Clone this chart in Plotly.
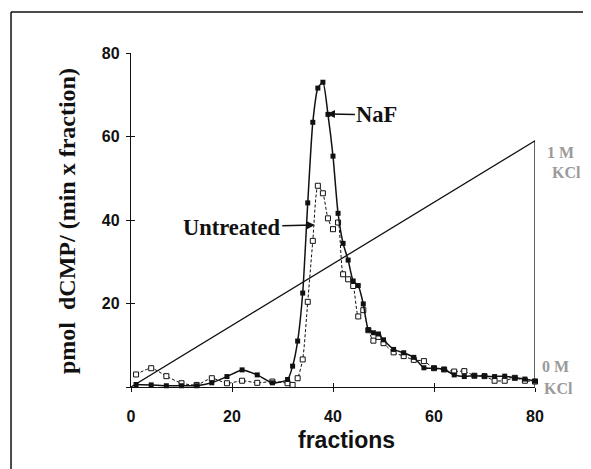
import plotly.graph_objects as go

fractions = [1, 4, 7, 10, 13, 16, 19, 22, 25, 28, 31, 32, 33, 34, 35, 36, 37, 38, 39, 40,
             41, 42, 43, 44, 45, 46, 47, 48, 49, 50, 52, 54, 56, 58, 60, 62, 64, 66, 68, 70,
             72, 74, 76, 78, 80]
naf = [0.6, 0.5, 0.3, 0.3, 0.3, 1.0, 2.5, 4.1, 2.9, 1.0, 1.8, 5.0, 11.0, 22.5, 44.1, 63.4, 71.6, 73.0, 65.3, 55.3,
       41.6, 34.4, 30.4, 25.4, 24.3, 19.9, 13.7, 13.0, 12.7, 11.3, 9.0, 8.2, 7.1, 4.6, 4.5, 4.2, 2.9, 2.5, 2.7, 2.6,
       2.5, 2.6, 2.2, 1.9, 1.4]
untreated = [3.0, 4.5, 2.6, 0.9, 0.5, 2.1, 0.9, 1.5, 1.0, 1.3, 0.9, 0.5, 2.1, 6.6, 20.4, 35.0, 48.2, 46.4, 40.4, 37.8,
             39.4, 27.0, 25.8, 24.2, 16.9, 18.4, 13.6, 11.1, 12.0, 10.5, 8.3, 7.4, 6.5, 6.2, 4.5, 4.2, 3.7, 3.8, 2.7, 2.6,
             1.5, 1.5, 2.2, 1.5, 1.3]
gradient_x = [0, 80, 80]
gradient_y = [0, 59, 0]

x_ticks = [0, 20, 40, 60, 80]
y_ticks = [0, 20, 40, 60, 80]
y_ticktext = ["", "20", "40", "60", "80"]

fig = go.Figure()
fig.add_trace(go.Scatter(x=gradient_x, y=gradient_y, mode="lines",
                         line=dict(color="#111", width=1.3), cliponaxis=False, showlegend=False))
fig.add_trace(go.Scatter(x=fractions, y=untreated, mode="lines+markers",
                         line=dict(color="#111", width=1, dash="3px,2px", shape="spline", smoothing=0.6),
                         marker=dict(symbol="square", size=5, color="white", line=dict(color="#111", width=1)),
                         cliponaxis=False, showlegend=False))
fig.add_trace(go.Scatter(x=fractions, y=naf, mode="lines+markers",
                         line=dict(color="#111", width=1.5, shape="spline", smoothing=0.6),
                         marker=dict(symbol="square", size=5, color="#111", line=dict(color="#111", width=0)),
                         cliponaxis=False, showlegend=False))
# overlay axes for the inside half of the crossing ticks
fig.add_trace(go.Scatter(x=[None], y=[None], xaxis="x2", yaxis="y2", showlegend=False))

tickfont = dict(family="Liberation Sans, Arial", size=16, color="#111", weight="bold")
fig.update_layout(
    width=591, height=469,
    margin=dict(l=123, r=64, t=45, b=90),
    paper_bgcolor="white", plot_bgcolor="white",
    xaxis=dict(range=[0, 80], tickvals=x_ticks, ticks="outside", ticklen=4, tickwidth=1.3,
               tickcolor="#111", showline=True, linecolor="#111", linewidth=1.3, showgrid=False,
               zeroline=False, tickfont=tickfont, ticklabelstandoff=11),
    yaxis=dict(range=[0, 80], tickvals=y_ticks, ticktext=y_ticktext, ticks="outside", ticklen=4,
               tickwidth=1.3, tickcolor="#111", showline=True, linecolor="#111", linewidth=1.3,
               showgrid=False, zeroline=False, tickfont=tickfont, ticklabelstandoff=3),
    xaxis2=dict(range=[0, 80], overlaying="x", tickvals=x_ticks, ticks="inside", ticklen=4, tickwidth=1.3,
                tickcolor="#111", showticklabels=False, showgrid=False, zeroline=False, showline=False),
    yaxis2=dict(range=[0, 80], overlaying="y", tickvals=y_ticks, ticks="inside", ticklen=4, tickwidth=1.3,
                tickcolor="#111", showticklabels=False, showgrid=False, zeroline=False, showline=False),
    shapes=[
        dict(type="line", xref="paper", yref="paper", x0=-0.297, y0=1.1228, x1=1.3, y1=1.1228,
             line=dict(color="#111", width=1.5)),
        dict(type="line", xref="paper", yref="paper", x0=-0.297, y0=-0.4, x1=-0.297, y1=1.1228,
             line=dict(color="#111", width=1.5)),
    ],
)

serif_b = "Liberation Serif, Times New Roman"
gray = "#9a9a9a"
fig.add_annotation(xref="paper", yref="paper", x=(67 - 131) / 404, y=(387 - 221) / 334,
                   xanchor="center", yanchor="middle",
                   text="<b>pmol&nbsp; dCMP/ (min x fraction)</b>",
                   textangle=-90, showarrow=False, font=dict(family=serif_b, size=24, color="#111"))
fig.add_annotation(xref="paper", yref="paper", x=(346 - 131) / 404, y=(387 - 440) / 334,
                   xanchor="center", yanchor="middle", text="<b>fractions</b>",
                   showarrow=False, font=dict(family="Liberation Sans, Arial", size=23, color="#111"))
fig.add_annotation(x=38.8, y=65.4, ax=50, ay=1, text="<b>NaF</b>", showarrow=True,
                   arrowhead=2, arrowsize=1, arrowwidth=1.6, arrowcolor="#111",
                   font=dict(family=serif_b, size=22.5, color="#111"))
fig.add_annotation(x=36.4, y=38.8, ax=-83, ay=2, text="<b>Untreated</b>", showarrow=True,
                   arrowhead=2, arrowsize=1, arrowwidth=1.6, arrowcolor="#111",
                   font=dict(family=serif_b, size=22.5, color="#111"))
for label, px, py in [("1 M", 560, 152), ("KCl", 566, 172), ("0 M", 555, 366), ("KCl", 558, 388)]:
    fig.add_annotation(xref="paper", yref="paper", x=(px - 131) / 404, y=(387 - py) / 334,
                       xanchor="center", yanchor="middle",
                       text="<b>" + label + "</b>", showarrow=False,
                       font=dict(family=serif_b, size=16, color=gray))

fig.write_html("out.html")
